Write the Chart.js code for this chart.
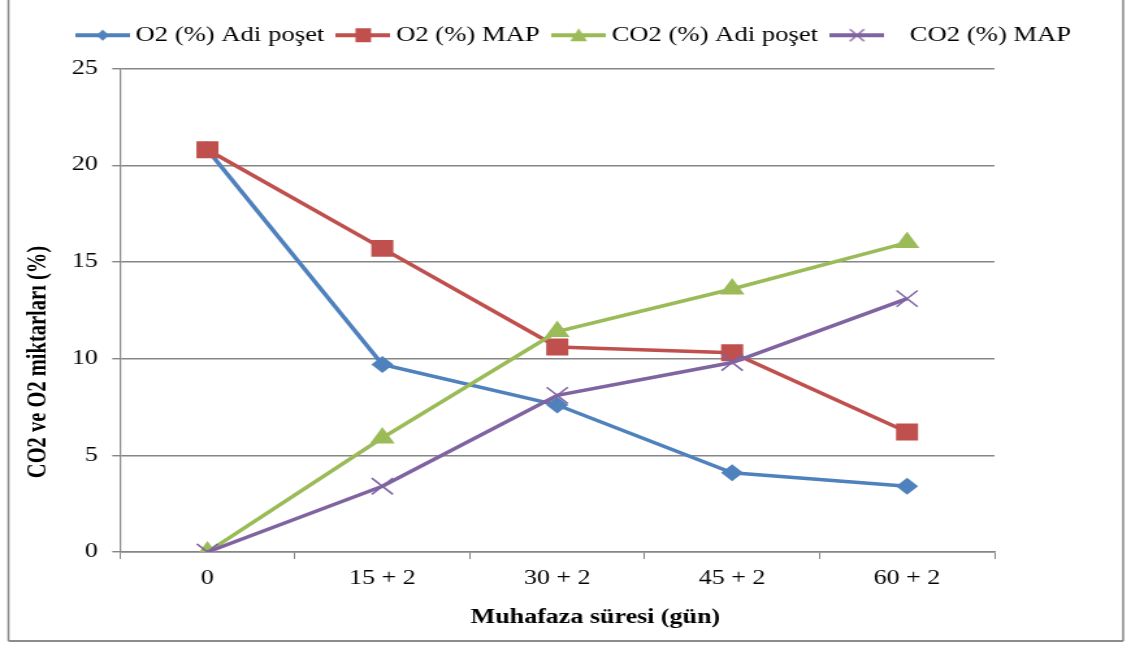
<!DOCTYPE html>
<html>
<head>
<meta charset="utf-8">
<script src="https://cdn.jsdelivr.net/npm/chart.js@4.4.1/dist/chart.umd.min.js"></script>
<style>
  html, body { margin: 0; padding: 0; background: #fff; overflow: hidden; }
  /* orijinal görsel yatayda gerilmiş; aynı oranla çiziyoruz */
  #wrap { width: 870px; height: 646px; transform: scaleX(1.3); transform-origin: 0 0; }
</style>
</head>
<body>
<div id="wrap"><canvas id="chart" width="870" height="646"></canvas></div>
<script>
// veriler
const categories = ["0", "15 + 2", "30 + 2", "45 + 2", "60 + 2"];
const o2Adi = [20.8, 9.7, 7.6, 4.1, 3.4];
const o2Map = [20.8, 15.7, 10.6, 10.3, 6.2];
const co2Adi = [0, 5.9, 11.4, 13.6, 16.0];
const co2Map = [0, 3.4, 8.1, 9.8, 13.1];
const yMin = 0;
const yMax = 25;
const yStep = 5;
const xTitle = "Muhafaza süresi (gün)";
const yTitle = "CO2 ve O2 miktarları (%)";

const FONT = "'Liberation Serif', 'Times New Roman', serif";
const GRID = "#868686";

// legend simgesi: çizgi + işaretçi
function legendIcon(color, style) {
  const c = document.createElement("canvas");
  c.width = 42;
  c.height = 16;
  const ctx = c.getContext("2d");
  const cx = 21, cy = 8;
  ctx.strokeStyle = color;
  ctx.fillStyle = color;
  ctx.lineWidth = 4;
  ctx.beginPath();
  ctx.moveTo(0, cy);
  ctx.lineTo(42, cy);
  ctx.stroke();
  ctx.beginPath();
  if (style === "diamond") {
    ctx.moveTo(cx - 5, cy);
    ctx.lineTo(cx, cy - 5.5);
    ctx.lineTo(cx + 5, cy);
    ctx.lineTo(cx, cy + 5.5);
    ctx.closePath();
    ctx.fill();
  } else if (style === "square") {
    ctx.rect(cx - 6, cy - 7, 12, 14);
    ctx.fill();
  } else if (style === "triangle") {
    ctx.moveTo(cx, cy - 7);
    ctx.lineTo(cx + 6.5, cy + 6);
    ctx.lineTo(cx - 6.5, cy + 6);
    ctx.closePath();
    ctx.fill();
  } else {
    ctx.lineWidth = 1.3;
    ctx.moveTo(cx - 5.5, cy - 6);
    ctx.lineTo(cx + 5.5, cy + 6);
    ctx.moveTo(cx + 5.5, cy - 6);
    ctx.lineTo(cx - 5.5, cy + 6);
    ctx.stroke();
  }
  return c;
}

const icons = [
  legendIcon("#4F81BD", "diamond"),
  legendIcon("#C0504D", "square"),
  legendIcon("#9BBB59", "triangle"),
  legendIcon("#8064A2", "cross"),
];

// legend'i orijinaldeki yerine kaydır
const legendShift = {
  id: "legendShift",
  afterLayout(chart) {
    const lg = chart.legend;
    if (!lg) return;
    lg.left += 5;
    lg.right += 5;
    lg.top -= 13;
    lg.bottom -= 13;
  },
};

// eksen başlıkları + dış çerçeve
const decorPlugin = {
  id: "decor",
  afterDraw(chart) {
    const ctx = chart.ctx;
    ctx.save();
    ctx.fillStyle = "#000";
    ctx.font = "bold 20px " + FONT;
    ctx.textAlign = "center";
    ctx.textBaseline = "middle";
    ctx.fillText(xTitle, 458, 618);
    ctx.translate(30, 362);
    ctx.rotate(-Math.PI / 2);
    ctx.font = "bold 20.5px " + FONT;
    ctx.fillText(yTitle, 0, 0);
    ctx.restore();

    ctx.save();
    ctx.strokeStyle = "#8c8c8c";
    ctx.lineWidth = 1.6;
    ctx.beginPath();
    ctx.moveTo(6.5, 0);
    ctx.lineTo(6.5, 641);
    ctx.moveTo(864, 0);
    ctx.lineTo(864, 641);
    ctx.stroke();
    ctx.lineWidth = 2.2;
    ctx.beginPath();
    ctx.moveTo(6.5, 641);
    ctx.lineTo(864, 641);
    ctx.stroke();
    ctx.restore();
  },
};

function line(label, data, color, style, radius, order) {
  return {
    label,
    data,
    borderColor: color,
    backgroundColor: color,
    borderWidth: 3.5,
    pointStyle: style,
    pointRadius: radius,
    pointBorderWidth: style === "crossRot" ? 1.5 : 0,
    pointBackgroundColor: color,
    pointBorderColor: color,
    tension: 0,
    order,
  };
}

new Chart(document.getElementById("chart"), {
  type: "line",
  data: {
    labels: categories,
    datasets: [
      line("O2 (%) Adi poşet", o2Adi, "#4F81BD", "rectRot", 8.5, 4),
      line("O2 (%) MAP", o2Map, "#C0504D", "rect", 12, 3),
      line("CO2 (%) Adi poşet", co2Adi, "#9BBB59", "triangle", 11, 2),
      line("   CO2 (%) MAP", co2Map, "#8064A2", "crossRot", 11.5, 1),
    ],
  },
  options: {
    responsive: false,
    animation: false,
    layout: { padding: { left: 8, right: 0, top: 23, bottom: 6 } },
    plugins: {
      tooltip: { enabled: false },
      legend: {
        position: "top",
        labels: {
          usePointStyle: true,
          pointStyleWidth: 30,
          padding: 15,
          color: "#000",
          font: { family: FONT, size: 20.5 },
          generateLabels(chart) {
            return chart.data.datasets.map((ds, i) => ({
              text: ds.label,
              pointStyle: icons[i],
              fillStyle: ds.borderColor,
              strokeStyle: ds.borderColor,
              lineWidth: 0,
              hidden: false,
              datasetIndex: i,
              fontColor: "#000",
            }));
          },
        },
      },
    },
    scales: {
      x: {
        offset: true,
        grid: {
          offset: true,
          drawOnChartArea: false,
          drawTicks: true,
          tickLength: 7,
          color: GRID,
        },
        border: { display: true, color: GRID, width: 1.5 },
        ticks: {
          color: "#000",
          padding: 8,
          font: { family: FONT, size: 20 },
        },
        afterFit(scale) {
          scale.height = 88;
        },
      },
      y: {
        min: yMin,
        max: yMax,
        ticks: {
          stepSize: yStep,
          color: "#000",
          padding: 11,
          font: { family: FONT, size: 20 },
        },
        grid: {
          color: GRID,
          lineWidth: 1.4,
          tickLength: 6,
        },
        border: { display: true, color: GRID, width: 1.2 },
        afterFit(scale) {
          scale.width = 84.3;
        },
      },
      // sağdaki boşluk için görünmez eksen
      yRight: {
        position: "right",
        display: true,
        min: yMin,
        max: yMax,
        ticks: { display: false },
        grid: { display: false, drawTicks: false },
        border: { display: false },
        afterFit(scale) {
          scale.width = 105;
        },
      },
    },
  },
  plugins: [legendShift, decorPlugin],
});
</script>
</body>
</html>
